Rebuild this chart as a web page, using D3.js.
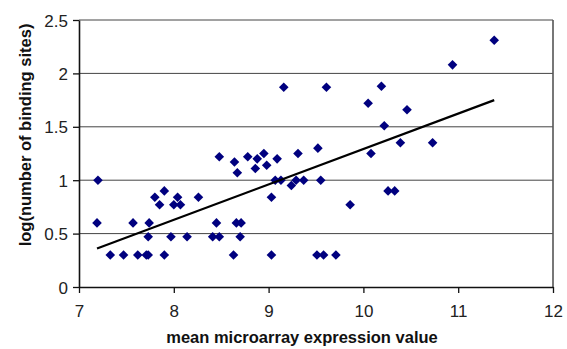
<!DOCTYPE html>
<html>
<head>
<meta charset="utf-8">
<script src="https://cdn.jsdelivr.net/npm/d3@7"></script>
<style>
  html, body { margin: 0; padding: 0; background: #fff; }
  svg { display: block; font-family: "Liberation Sans", Arial, sans-serif; }
</style>
</head>
<body>
<svg id="chart" width="567" height="349"></svg>
<script>
// Mean expression (x) vs. log number of binding sites (y)
const expression = [
  7.20, 7.19, 7.33, 7.47, 7.57, 7.62, 7.71, 7.73, 7.74, 7.73,
  7.80, 7.85, 7.90, 7.90, 7.97, 8.00, 8.04, 8.07, 8.14, 8.26,
  8.41, 8.45, 8.48, 8.48, 8.63, 8.64, 8.67, 8.66, 8.71, 8.70,
  8.78, 8.86, 8.88, 8.95, 8.98, 9.09, 9.03, 9.03, 9.07, 9.13,
  9.24, 9.31, 9.29, 9.37, 9.16, 9.52, 9.55, 9.61, 9.51, 9.58,
  9.71, 9.86, 10.05, 10.08, 10.19, 10.22, 10.26, 10.33, 10.39, 10.46,
  10.73, 10.94, 11.38
];
const logSites = [
  1.00, 0.60, 0.30, 0.30, 0.60, 0.30, 0.30, 0.30, 0.60, 0.47,
  0.84, 0.77, 0.90, 0.30, 0.47, 0.77, 0.84, 0.77, 0.47, 0.84,
  0.47, 0.60, 0.47, 1.22, 0.30, 1.17, 1.07, 0.60, 0.60, 0.47,
  1.22, 1.11, 1.20, 1.25, 1.14, 1.20, 0.84, 0.30, 1.00, 1.00,
  0.95, 1.25, 1.00, 1.00, 1.87, 1.30, 1.00, 1.87, 0.30, 0.30,
  0.30, 0.77, 1.72, 1.25, 1.88, 1.51, 0.90, 0.90, 1.35, 1.66,
  1.35, 2.08, 2.31
];
// Linear trend line end points
const trendX = [7.19, 11.38];
const trendY = [0.36, 1.75];

const xTicks = [7, 8, 9, 10, 11, 12];
const yTicks = [0, 0.5, 1, 1.5, 2, 2.5];

const svg = d3.select("#chart");
const x = d3.scaleLinear().domain([7, 12]).range([79, 553]);
const y = d3.scaleLinear().domain([0, 2.5]).range([287, 20]);

// horizontal gridlines
svg.append("g").selectAll("line")
  .data(yTicks.filter(d => d > 0))
  .join("line")
  .attr("x1", x(7)).attr("x2", x(12))
  .attr("y1", d => y(d)).attr("y2", d => y(d))
  .attr("stroke", "#444").attr("stroke-width", 1);

// right frame edge
svg.append("line")
  .attr("x1", x(12)).attr("x2", x(12))
  .attr("y1", y(2.5)).attr("y2", y(0))
  .attr("stroke", "#555").attr("stroke-width", 1.6);

// axes
const xAxis = svg.append("g")
  .attr("transform", `translate(0,${y(0)})`)
  .call(d3.axisBottom(x).tickValues(xTicks).tickSize(6).tickSizeOuter(0).tickFormat(d3.format("d")));
const yAxis = svg.append("g")
  .attr("transform", `translate(${x(7)},0)`)
  .call(d3.axisLeft(y).tickValues(yTicks).tickSize(6).tickSizeOuter(0).tickFormat(d => String(d)));

[xAxis, yAxis].forEach(g => {
  g.select(".domain").attr("stroke", "#111").attr("stroke-width", 1.6);
  g.selectAll(".tick line").attr("stroke", "#111").attr("stroke-width", 1.3);
  g.selectAll(".tick text").attr("fill", "#222")
    .style("font-family", "'Liberation Sans', Arial, sans-serif").style("font-size", "17px");
});
xAxis.selectAll(".tick text").attr("dy", null).attr("y", 30);
yAxis.selectAll(".tick text").attr("x", -11).attr("dy", "0.36em");

// data points
const pts = expression.map((v, i) => [v, logSites[i]]);
svg.append("g").selectAll("path")
  .data(pts)
  .join("path")
  .attr("transform", d => `translate(${x(d[0])},${y(d[1])})`)
  .attr("d", "M0,-4.8L4.8,0L0,4.8L-4.8,0Z")
  .attr("fill", "#00007f");

// trend line
svg.append("line")
  .attr("x1", x(trendX[0])).attr("y1", y(trendY[0]))
  .attr("x2", x(trendX[1])).attr("y2", y(trendY[1]))
  .attr("stroke", "#000").attr("stroke-width", 2.2);

// axis titles
svg.append("text")
  .attr("x", 302).attr("y", 343)
  .attr("text-anchor", "middle")
  .attr("font-weight", "bold").attr("font-size", "16.5px").attr("fill", "#111")
  .text("mean microarray expression value");

svg.append("text")
  .attr("transform", `translate(31,135) rotate(-90)`)
  .attr("text-anchor", "middle")
  .attr("font-weight", "bold").attr("font-size", "16.5px").attr("fill", "#111")
  .text("log(number of binding sites)");
</script>
</body>
</html>
